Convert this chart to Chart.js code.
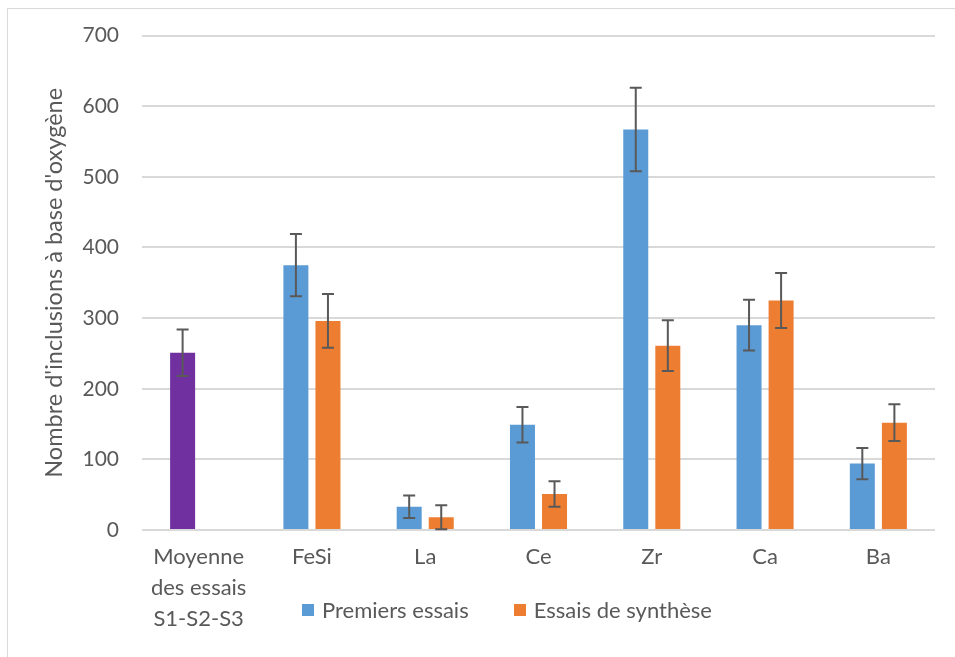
<!DOCTYPE html>
<html lang="fr">
<head>
<meta charset="utf-8">
<title>Nombre d'inclusions à base d'oxygène</title>
<script src="https://cdn.jsdelivr.net/npm/chart.js@4.4.1/dist/chart.umd.min.js"></script>
<style>
	html, body { margin: 0; padding: 0; background: #fff; }
	.wrap { position: relative; width: 955px; height: 657px; overflow: hidden; }
	.frame { position: absolute; left: 7px; top: 8px; width: 980px; height: 700px; border: 1px solid #d9d9d9; box-sizing: border-box; }
	canvas { position: absolute; left: 0; top: 0; }
	.legend { position: absolute; top: 596px; left: 302px; display: flex; font: 22px Lato, "Open Sans", sans-serif; line-height: 28px; color: #595959; }
	.legend-item { display: flex; align-items: center; margin-right: 45px; }
	.legend-dot { width: 12px; height: 12px; margin-right: 8px; }
</style>
</head>
<body>
<div class="wrap">
	<div class="frame"></div>
	<canvas id="chart" width="955" height="657"></canvas>
	<div class="legend" id="legend"></div>
</div>
<script>
// ─── Data ───────────────────────────────────────
const categories = [["Moyenne", "des essais", "S1-S2-S3"], "FeSi", "La", "Ce", "Zr", "Ca", "Ba"];
const seriesNames = ["Premiers essais", "Essais de synthèse"];
const premiers = [251, 375, 33, 149, 567, 290, 94];
const premiersErr = [33, 44, 16, 25, 59, 36, 22];
const synthese = [null, 296, 18, 51, 261, 325, 152];
const syntheseErr = [null, 38, 17, 18, 36, 39, 26];
const yTicks = [0, 100, 200, 300, 400, 500, 600, 700];

// ─── Colours ────────────────────────────────────
const BLUE = "#5b9bd5";
const ORANGE = "#ed7d31";
const PURPLE = "#7030a0";
const TEXT = "#595959";
const FONT = "Lato, 'Open Sans', sans-serif";

// la première barre (moyenne) est en violet
const premiersColors = premiers.map((v, i) => (i === 0 ? PURPLE : BLUE));

// ─── Error bars plugin ──────────────────────────
const errorBars = {
	id: "errorBars",
	afterDatasetsDraw(chart) {
		const { ctx } = chart;
		const y = chart.scales.y;
		ctx.save();
		ctx.strokeStyle = "#595959";
		ctx.lineWidth = 2;
		chart.data.datasets.forEach((ds, di) => {
			const meta = chart.getDatasetMeta(di);
			meta.data.forEach((bar, i) => {
				const v = ds.data[i];
				const e = ds.errors[i];
				if (v == null || e == null) return;
				const x = bar.x;
				const top = y.getPixelForValue(v + e);
				const bot = y.getPixelForValue(Math.max(v - e, 0));
				ctx.beginPath();
				ctx.moveTo(x, top); ctx.lineTo(x, bot);
				ctx.moveTo(x - 6, top); ctx.lineTo(x + 6, top);
				ctx.moveTo(x - 6, bot); ctx.lineTo(x + 6, bot);
				ctx.stroke();
			});
		});
		ctx.restore();
	},
};

const chart = new Chart(document.getElementById("chart"), {
	type: "bar",
	data: {
		labels: categories,
		datasets: [
			{ label: seriesNames[0], data: premiers, errors: premiersErr, backgroundColor: premiersColors },
			{ label: seriesNames[1], data: synthese, errors: syntheseErr, backgroundColor: ORANGE },
		],
	},
	options: {
		responsive: false,
		animation: false,
		devicePixelRatio: 1,
		categoryPercentage: 0.566,
		barPercentage: 0.78,
		layout: { padding: { top: 35, right: 20, left: 40, bottom: 0 } },
		plugins: { legend: { display: false }, tooltip: { enabled: false } },
		scales: {
			x: {
				grid: { display: false },
				border: { display: false },
				ticks: { color: TEXT, font: { family: FONT, size: 22, lineHeight: 1.42 }, padding: 3, maxRotation: 0, autoSkip: false },
				afterFit: (s) => { s.height = 127; },
			},
			y: {
				min: 0,
				max: 700,
				afterBuildTicks: (s) => { s.ticks = yTicks.map((v) => ({ value: v })); },
				grid: { color: "#d9d9d9", lineWidth: 2, drawTicks: false },
				border: { display: false },
				ticks: { color: TEXT, font: { family: FONT, size: 21 }, padding: 23 },
				title: { display: true, text: "Nombre d'inclusions à base d'oxygène", color: TEXT, font: { family: FONT, size: 23.5 }, padding: 0 },
				afterFit: (s) => { s.width = 102; },
			},
		},
	},
	plugins: [errorBars],
});

// ─── Legend ─────────────────────────────────────
document.getElementById("legend").innerHTML = seriesNames
	.map((n, i) => `<div class="legend-item"><span class="legend-dot" style="background:${i ? ORANGE : BLUE}"></span>${n}</div>`)
	.join("");
</script>
</body>
</html>
